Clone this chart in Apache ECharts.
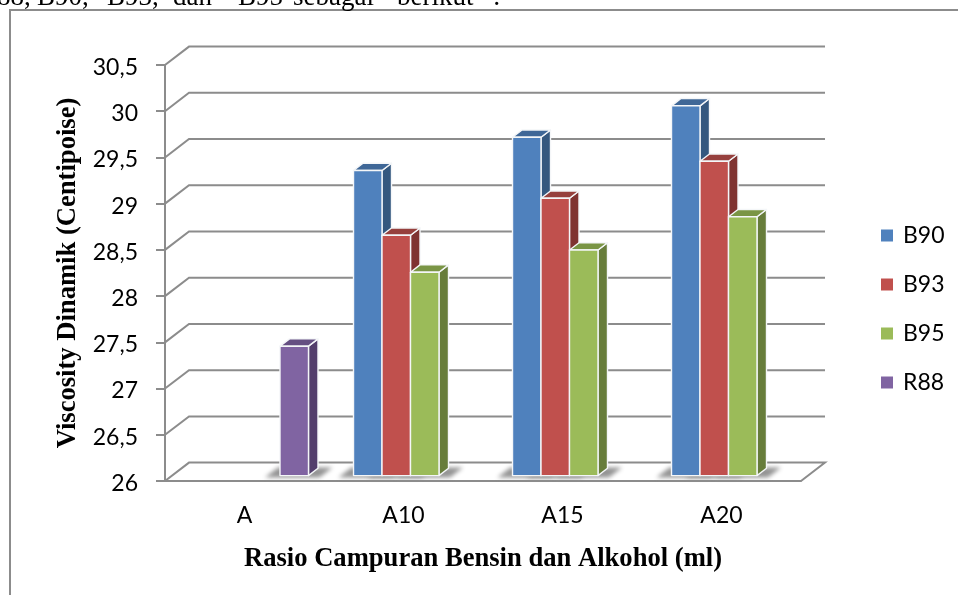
<!DOCTYPE html>
<html><head><meta charset="utf-8">
<style>html,body{margin:0;padding:0;background:#fff}#c{width:958px;height:595px}</style>
<script src="https://cdn.jsdelivr.net/npm/echarts@6/dist/echarts.min.js"></script>
</head><body><div id="c"></div>
<script>
const categories = ['A','A10','A15','A20'];
const tickValues = [26,26.5,27,27.5,28,28.5,29,29.5,30,30.5];
const seriesNames = ['B90','B93','B95','R88'];
const B90 = [null,29.3,29.66,30];
const B93 = [null,28.6,29,29.4];
const B95 = [null,28.2,28.44,28.8];
const R88 = [27.4,null,null,null];
const seriesValues = [B90,B93,B95,R88];
const headerWords = ['88,','B90,','B93,','dan','B95','sebagai','berikut',':'];
const headerLeft = [-3,37,107,173,238,293,397,493];
const frontColors = ['#4f81bd','#c0504d','#9bbb59','#8064a2'];
const sideColors = ['#35587f','#7f3331','#677d3b','#533e6c'];
const topColors = ['#3f6797','#96403d','#7a9545','#654f82'];
const GRID = '#8c8c8c';
const WALL = {dx:24, dy:18.4};
const BAR = {ox:7, oy:5.4, dx:9.5, dy:7.3, frac:0.1792};
const OFF = 3000;

const chart = echarts.init(document.getElementById('c'), null, {renderer:'canvas'});
function poly(points, fill, extra){
  return {type:'polygon', shape:{points}, style:Object.assign({fill, stroke:'#f4f6f8', lineWidth:1.4, lineJoin:'round'}, extra||{})};
}
function wallItem(params, api){
  const cs = params.coordSys, v = api.value(0), y = api.coord([0, v])[1];
  const style = {fill:'none', stroke:GRID, lineWidth:2};
  const pts = [[cs.x,y],[cs.x+WALL.dx,y-WALL.dy],[cs.x+cs.width+WALL.dx,y-WALL.dy]];
  if (v === tickValues[0]) pts.push([cs.x+cs.width,y]);
  return {type:'polyline', shape:{points:pts}, style};
}
function barGeom(s, api){
  const cat = api.value(0), val = api.value(1);
  const p = api.coord([cat,val]), base = api.coord([cat,tickValues[0]]);
  const w = api.size([1,0])[0]*BAR.frac;
  const x0 = p[0]+BAR.ox-2*w+s*w;
  return {x0, x1:x0+w, top:p[1]-BAR.oy, bot:base[1]-BAR.oy};
}
function barItem(s){ return (params, api)=>{
  const g = barGeom(s, api), d = BAR;
  return {type:'group', children:[
    poly([[g.x1,g.top],[g.x1+d.dx,g.top-d.dy],[g.x1+d.dx,g.bot-d.dy],[g.x1,g.bot]], sideColors[s]),
    poly([[g.x0,g.top],[g.x0+d.dx,g.top-d.dy],[g.x1+d.dx,g.top-d.dy],[g.x1,g.top]], topColors[s]),
    poly([[g.x0,g.top],[g.x1,g.top],[g.x1,g.bot],[g.x0,g.bot]], frontColors[s])
  ]};
};}
function shadowItem(s){ return (params, api)=>{
  const g = barGeom(s, api);
  const pts = [[g.x0-15,g.bot+2],[g.x0-2,g.bot-8],[g.x1+24,g.bot-8],[g.x1+11,g.bot+2]].map(p=>[p[0]-OFF,p[1]]);
  return poly(pts, '#999', {stroke:'none', lineWidth:0, shadowBlur:4, shadowColor:'#949494', shadowOffsetX:OFF});
};}
const rows = vals => vals.map((v,i)=>[i,v]).filter(r=>r[1]!==null);
const series = [{type:'custom', name:'wall', silent:true, z:1, clip:false, renderItem:wallItem,
  encode:{y:0}, data:tickValues.map(v=>[v])}];
seriesValues.forEach((vals,s)=>series.push({type:'custom', name:'shadow'+s, silent:true, z:2, clip:false,
  renderItem:shadowItem(s), encode:{x:0,y:1}, data:rows(vals)}));
seriesValues.forEach((vals,s)=>series.push({type:'custom', name:seriesNames[s], z:3, clip:false,
  renderItem:barItem(s), itemStyle:{color:frontColors[s]}, encode:{x:0,y:1}, data:rows(vals)}));

chart.setOption({
  animation:false, backgroundColor:'#fff',
  graphic:[
    {type:'rect', z:0, shape:{x:10,y:10,width:1100,height:800}, style:{fill:'none',stroke:GRID,lineWidth:2}}
  ].concat(headerWords.map((t,i)=>({type:'text', z:5, style:{x:headerLeft[i], y:11, text:t, verticalAlign:'bottom', font:'27px "Liberation Serif"', fill:'#000'}}))),
  legend:{orient:'vertical', left:876, top:219, itemWidth:12, itemHeight:12, itemGap:26, icon:'rect',
    data:seriesNames, selectedMode:false, textStyle:{fontFamily:'Lato', fontSize:23, color:'#000', padding:[0,0,0,5]}},
  grid:{left:165, top:65, width:636, height:416, containLabel:false},
  xAxis:{type:'category', data:categories, name:'Rasio Campuran Bensin dan Alkohol (ml)', nameLocation:'middle', nameGap:65,
    nameTextStyle:{fontFamily:'Liberation Serif', fontWeight:'bold', fontSize:26.6, color:'#000'},
    axisLine:{lineStyle:{color:GRID,width:2}}, axisTick:{show:false},
    axisLabel:{fontFamily:'Lato', fontSize:23, color:'#000', margin:23}},
  yAxis:{type:'value', min:26, max:30.5, interval:0.5, name:'Viscosity Dinamik (Centipoise)', nameLocation:'middle', nameGap:83,
    nameTextStyle:{fontFamily:'Liberation Serif', fontWeight:'bold', fontSize:26.6, color:'#000'},
    axisLine:{show:true, lineStyle:{color:GRID,width:2}}, axisTick:{show:true, length:9, lineStyle:{color:GRID,width:2}},
    splitLine:{show:false},
    axisLabel:{fontFamily:'Lato', fontSize:23, color:'#000', margin:27, verticalAlign:'top', lineHeight:5, formatter:v=>String(v).replace('.',',')}},
  series
});
</script></body></html>
